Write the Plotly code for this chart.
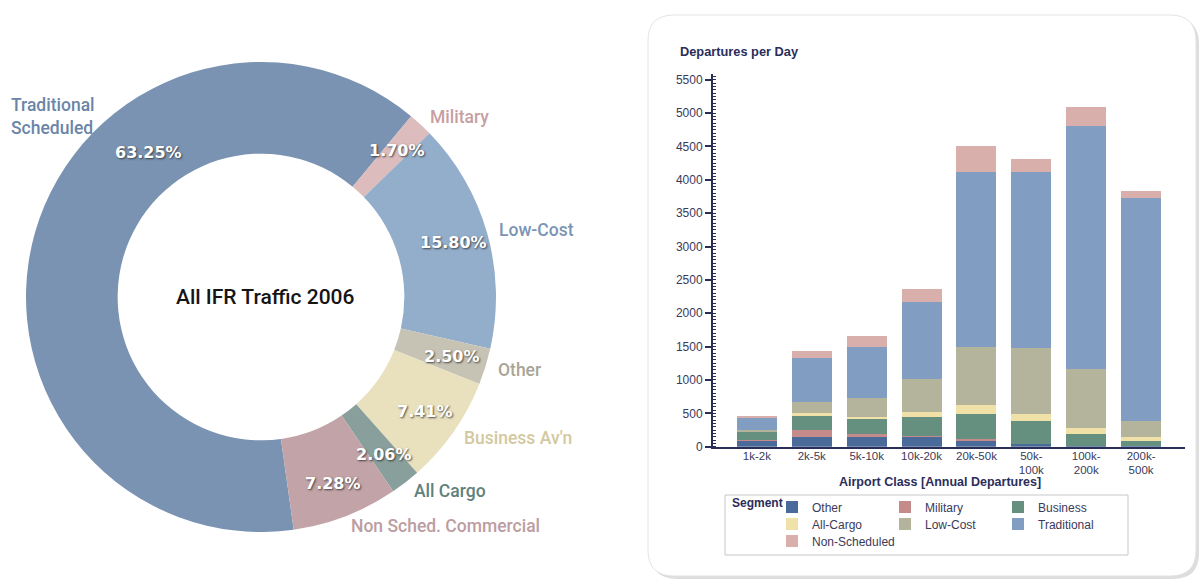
import math
import plotly.graph_objects as go

W, H = 1200, 579

# ---- Donut: share of all IFR traffic, 2006 ----
segments = ["Traditional Scheduled", "Military", "Low-Cost", "Other",
            "Business Av'n", "All Cargo", "Non Sched. Commercial"]
segment_labels = ["Traditional<br>Scheduled", "Military", "Low-Cost", "Other",
                  "Business Av'n", "All Cargo", "Non Sched. Commercial"]
shares = [63.25, 1.70, 15.80, 2.50, 7.41, 2.06, 7.28]

pie_colors = ["#7a93b2", "#dcbcbc", "#93aecb", "#c7c3b4", "#e9e0be", "#889f9b", "#c2a3a7"]
label_colors = ["#6b85a8", "#c69fa3", "#7a94b4", "#a9a597", "#d3c8a0", "#5f817b", "#bc9da1"]

# ---- Stacked bars: departures per day by airport class ----
categories = ["1k-2k", "2k-5k", "5k-10k", "10k-20k", "20k-50k",
              "50k-<br>100k", "100k-<br>200k", "200k-<br>500k"]
other = [80, 150, 140, 140, 90, 35, 15, 10]
military = [25, 100, 45, 25, 20, 5, 3, 2]
business = [110, 210, 225, 285, 380, 345, 165, 75]
all_cargo = [10, 40, 30, 75, 135, 100, 90, 60]
low_cost = [30, 175, 285, 485, 875, 990, 890, 235]
traditional = [170, 650, 765, 1160, 2620, 2640, 3645, 3340]
non_scheduled = [25, 110, 170, 195, 390, 200, 285, 105]

# (name, values, colour, legend row)
bar_series = [
    ("Other", other, "#4a6a9a", "legend"),
    ("Military", military, "#c58a8a", "legend"),
    ("Business", business, "#65907f", "legend"),
    ("All-Cargo", all_cargo, "#f0e1a8", "legend2"),
    ("Low-Cost", low_cost, "#b4b49c", "legend2"),
    ("Traditional", traditional, "#819dc2", "legend2"),
    ("Non-Scheduled", non_scheduled, "#d8afab", "legend3"),
]

fig = go.Figure()

# donut geometry in pixels
cx, cy, R = 261, 297, 235
hole = 0.61
rotation = 172

fig.add_trace(go.Pie(
    labels=segments, values=shares, hole=hole, sort=False,
    direction="clockwise", rotation=rotation,
    marker=dict(colors=pie_colors, line=dict(width=0)),
    textinfo="none", hoverinfo="label+percent", showlegend=False,
    domain=dict(x=[(cx - R) / W, (cx + R) / W],
                y=[1 - (cy + R) / H, 1 - (cy - R) / H]),
))

for name, vals, color, leg in bar_series:
    fig.add_trace(go.Bar(
        x=categories, y=vals, name=name, legend=leg,
        marker=dict(color=color, line=dict(width=0)),
        xaxis="x", yaxis="y",
    ))


def to_paper(angle_deg, r):
    a = math.radians(angle_deg)
    px = cx + r * math.sin(a)
    py = cy - r * math.cos(a)
    return px / W, 1 - py / H


annotations = []
total = sum(shares)
start = rotation
for i, v in enumerate(shares):
    span = 360 * v / total
    # the big slice carries its labels on the upper-left part of the ring
    if i == 0:
        x, y = to_paper(start + span * 0.66, 0.78 * R)
    else:
        x, y = to_paper(start + span * 0.5, 0.85 * R)
    annotations.append(dict(
        x=x, y=y, xref="paper", yref="paper", text=f"{v:.2f}%", showarrow=False,
        font=dict(family="DejaVu Sans", size=16, color="white", weight="bold",
                  shadow="1px 1px 2px rgba(40,40,40,0.8)"),
        xanchor="center", yanchor="middle",
    ))
    if i == 0:
        x, y = to_paper(start + span * 0.61, 1.17 * R)
        anchor = "center"
    else:
        x, y = to_paper(start + span * 0.5, 1.045 * R)
        anchor = "left"
    annotations.append(dict(
        x=x, y=y, xref="paper", yref="paper", text=segment_labels[i], showarrow=False,
        font=dict(family="Roboto", size=17.5, color=label_colors[i], weight=500),
        xanchor=anchor, yanchor="middle", align="left",
    ))
    start += span

annotations.append(dict(
    x=(cx + 4) / W, y=1 - cy / H, xref="paper", yref="paper", text="All IFR Traffic 2006",
    showarrow=False, font=dict(family="Roboto", size=21, color="#151515", weight=500),
    xanchor="center", yanchor="middle",
))
annotations.append(dict(
    x=678 / W, y=1 - 52 / H, xref="paper", yref="paper", text="<b>Departures per Day</b>",
    showarrow=False, font=dict(family="Liberation Sans", size=12.8, color="#2b2d5a"),
    xanchor="left", yanchor="middle",
))
annotations.append(dict(
    x=940 / W, y=1 - 482 / H, xref="paper", yref="paper",
    text="<b>Airport Class [Annual Departures]</b>",
    showarrow=False, font=dict(family="Liberation Sans", size=12.5, color="#2b2d5a"),
    xanchor="center", yanchor="middle",
))
annotations.append(dict(
    x=730 / W, y=1 - 503 / H, xref="paper", yref="paper", text="<b>Segment</b>",
    showarrow=False, font=dict(family="Liberation Sans", size=12, color="#2b2d5a"),
    xanchor="left", yanchor="middle",
))


def rounded_rect(x0, y0, x1, y1, r):
    # pixel box -> paper path with rounded corners
    X0, X1 = x0 / W, x1 / W
    Y0, Y1 = 1 - y1 / H, 1 - y0 / H
    rx, ry = r / W, r / H
    return (f"M{X0 + rx},{Y1} L{X1 - rx},{Y1} Q{X1},{Y1} {X1},{Y1 - ry} "
            f"L{X1},{Y0 + ry} Q{X1},{Y0} {X1 - rx},{Y0} L{X0 + rx},{Y0} "
            f"Q{X0},{Y0} {X0},{Y0 + ry} L{X0},{Y1 - ry} Q{X0},{Y1} {X0 + rx},{Y1} Z")


shapes = [
    dict(type="path", xref="paper", yref="paper", layer="below",
         path=rounded_rect(651, 18, 1199, 579, 26),
         fillcolor="rgba(120,120,120,0.25)", line=dict(width=0)),
    dict(type="path", xref="paper", yref="paper", layer="below",
         path=rounded_rect(648, 15, 1196, 576, 26),
         fillcolor="white", line=dict(color="#e4e4e4", width=1)),
    # frame around the segment legend
    dict(type="rect", xref="paper", yref="paper", layer="below",
         x0=725 / W, x1=1128 / W, y0=1 - 555 / H, y1=1 - 495 / H,
         fillcolor="white", line=dict(color="#c8c8c8", width=1)),
]

axis_color = "#2a2d55"
y0_px, px_per_unit = 446.7, 367 / 5500
y_max = 5580


def legend_row(row_y, entry_w=68):
    return dict(
        orientation="h", x=772 / W, y=1 - row_y / H, xanchor="left", yanchor="middle",
        entrywidth=entry_w, entrywidthmode="pixels", traceorder="normal",
        font=dict(family="Liberation Sans", size=12, color="#3a3a5a"),
        bgcolor="rgba(0,0,0,0)", borderwidth=0, itemsizing="constant",
    )


fig.update_layout(
    width=W, height=H,
    margin=dict(l=0, r=0, t=0, b=0, autoexpand=False),
    paper_bgcolor="white", plot_bgcolor="rgba(0,0,0,0)",
    barmode="stack", bargap=0.27,
    xaxis=dict(
        domain=[713 / W, 1185 / W], range=[-0.8, 7.8], type="category",
        showline=True, linecolor=axis_color, linewidth=2, ticks="",
        showgrid=False, zeroline=False, ticklabelstandoff=-3,
        tickfont=dict(family="Liberation Sans", size=11.5, color="#3a3a5a"),
    ),
    yaxis=dict(
        domain=[1 - y0_px / H, 1 - (y0_px - y_max * px_per_unit) / H],
        range=[0, y_max], tickvals=list(range(0, 5501, 500)),
        showline=True, linecolor=axis_color, linewidth=2,
        ticks="outside", ticklen=6, tickwidth=1.5, tickcolor=axis_color,
        minor=dict(dtick=50, ticks="inside", ticklen=3, tickwidth=1, tickcolor=axis_color,
                   showgrid=False),
        showgrid=False, zeroline=False,
        tickfont=dict(family="Liberation Sans", size=12, color="#3a3a5a"),
    ),
    legend=legend_row(507),
    legend2=legend_row(524),
    legend3=legend_row(541, 110),
    annotations=annotations,
    shapes=shapes,
)

fig.write_html("out.html")
